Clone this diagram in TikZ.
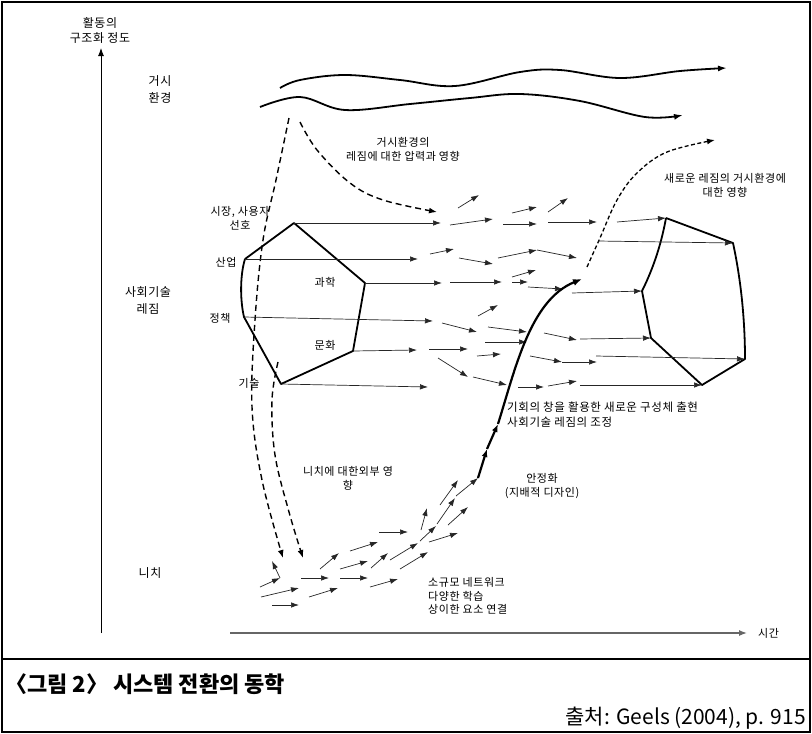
\documentclass[tikz,border=0pt]{standalone}
\usepackage{fontspec}
\setmainfont{Noto Sans CJK KR}
\newfontfamily\lblf[LetterSpace=5]{Noto Sans CJK KR}
\usetikzlibrary{arrows.meta}
\begin{document}
\begin{tikzpicture}[x=1pt,y=-1pt,
  ar/.style={-{Latex[length=8pt,width=5.5pt]}, line width=0.7pt, draw=black!85},
  dsh/.style={dash pattern=on 6pt off 4pt, line width=1.4pt, -{Latex[length=8pt,width=6pt]}},
  fdsh/.style={dash pattern=on 4pt off 2.5pt, line width=1.3pt, -{Latex[length=8pt,width=6pt]}},
  thk/.style={line width=1.8pt, line join=round},
  wave/.style={line width=1.8pt, -{Latex[length=9pt,width=6pt]}},
  lbl/.style={font=\lblf\fontsize{11}{14}\selectfont, align=center, inner sep=0pt},
  big/.style={font=\lblf\fontsize{12}{17}\selectfont, align=center, inner sep=0pt}]
\useasboundingbox (0,0) rectangle (812,734);
\draw[line width=1.2pt] (2,2) rectangle (810,732);
\draw[line width=1.2pt] (2,659) -- (810,659);

% axes
\coordinate (YA0) at (101,633);
\coordinate (YA1) at (101,48);
\coordinate (XA0) at (230,633);
\coordinate (XA1) at (747,633);
\draw[line width=0.9pt, -{Latex[length=8pt,width=6pt]}] (YA0) -- (YA1);
\draw[line width=1.3pt, draw=black!60, -{Latex[length=8pt,width=6pt]}] (XA0) -- (XA1);
\node[big, font=\lblf\fontsize{12}{15}\selectfont] (ylab) at (100,30) {활동의\\구조화 정도};
\node[lbl, anchor=west] (tlab) at (758,633) {시간};

\node[big] (macro) at (160,89.5) {거시\\환경};
\node[big] (regime) at (148,300.5) {사회기술\\레짐};
\node[big] (niche) at (150,573) {니치};

% landscape waves
\draw[wave] plot[smooth, tension=0.6] coordinates {(280,88) (300,80) (345,75) (400,80) (455,86) (520,72) (560,70) (620,78) (680,71) (727,68)};
\draw[wave] plot[smooth, tension=0.6] coordinates {(260,107) (300,97) (345,110) (410,104) (470,98) (520,94) (580,101) (645,117) (683,115)};

% dashed influences
\draw[dsh] plot[smooth, tension=0.6] coordinates {(289,118) (276,180) (263,240) (255,320) (252,407) (262,480) (283,558)};
\draw[dsh] plot[smooth, tension=0.6] coordinates {(278,362) (272,400) (275,455) (289,512) (303,558)};
\draw[dsh] plot[smooth, tension=0.6] coordinates {(300,122) (317,150) (350,183) (383,200) (437,212)};
\draw[fdsh] plot[smooth, tension=0.6] coordinates {(587,267) (600,238) (617,200) (637,173) (667,152) (715,140)};

% left regime polygon
\coordinate (LT) at (294,223);
\coordinate (LR) at (365,283);
\coordinate (LLR) at (353,351);
\coordinate (LB) at (281,384);
\coordinate (LLL) at (244,317);
\coordinate (LLU) at (245,259);
\draw[thk] (LLU) -- (LT) -- (LR) -- (LLR) -- (LB) -- (LLL) .. controls (240,300) and (240,275) .. (LLU);

% right regime polygon
\coordinate (RTL) at (666,218);
\coordinate (RTR) at (733,243);
\coordinate (RBR) at (745,359);
\coordinate (RB) at (702,385);
\coordinate (RLL) at (651,338);
\coordinate (RL) at (642,291);
\draw[thk] (RTL) -- (RTR) .. controls (741,280) and (745,320) .. (RBR) -- (RB) -- (RLL) -- (RL) .. controls (655,265) and (662,240) .. (RTL);

% lines from left polygon
\draw[ar] (LT) -- (441,223);
\draw[ar] (LLU) -- (418,259);
\draw[ar] (LR) -- (442,283);
\draw[ar] (LLL) -- (433,321);
\draw[ar] (LLR) -- (417,350);
\draw[ar] (LB) -- (428,387);

% middle arrows
\foreach \a/\b in {
  {(458,208)}/{(479,195)}, {(450,225)}/{(493,219)}, {(503,224)}/{(537,224)},
  {(512,213)}/{(537,207)}, {(548,212)}/{(568,198)}, {(548,222)}/{(597,222)},
  {(430,254)}/{(454,249)}, {(459,258)}/{(493,264)}, {(498,258)}/{(537,250)},
  {(537,250)}/{(577,258)}, {(450,282)}/{(502,282)}, {(512,277)}/{(536,270)},
  {(512,282)}/{(528,282)}, {(528,287)}/{(563,289)}, {(478,316)}/{(498,305)},
  {(442,323)}/{(477,332)}, {(488,327)}/{(527,332)}, {(485,342)}/{(527,342)},
  {(544,333)}/{(577,340)}, {(429,349)}/{(468,349)}, {(477,356)}/{(501,354)},
  {(438,358)}/{(468,377)}, {(530,356)}/{(562,362)}, {(562,362)}/{(597,362)},
  {(473,377)}/{(507,385)}, {(518,387)}/{(544,387)}, {(548,386)}/{(577,381)}}
  {\draw[ar] \a -- \b;}

% lines into right polygon
\draw[ar] (617,222) -- (RTL);
\draw[ar] (598,241) -- (RTR);
\draw[ar] (572,293) -- (RL);
\draw[ar] (580,339) -- (RLL);
\draw[ar] (596,356) -- (RBR);
\draw[ar] (580,385) -- (RB);

% niche arrows
\foreach \a/\b in {
  {(260,587)}/{(280,578)}, {(280,578)}/{(272,561)}, {(261,597)}/{(299,588)},
  {(272,605)}/{(299,605)}, {(301,578)}/{(329,578)}, {(309,597)}/{(338,588)},
  {(320,569)}/{(339,553)}, {(340,569)}/{(368,561)}, {(340,578)}/{(368,578)},
  {(350,551)}/{(378,542)}, {(370,587)}/{(398,579)}, {(371,568)}/{(388,553)},
  {(379,532)}/{(408,532)}, {(390,560)}/{(418,543)}, {(400,569)}/{(428,552)},
  {(420,541)}/{(436,526)}, {(437,524)}/{(455,498)}, {(456,496)}/{(478,478)},
  {(421,530)}/{(427,508)}, {(429,542)}/{(458,533)}, {(448,525)}/{(468,507)},
  {(440,505)}/{(458,480)}}
  {\draw[ar] \a -- \b;}

% thick emergence path
\coordinate (S0) at (478,478);
\coordinate (S1) at (487,449);
\coordinate (S2) at (498,424);
\coordinate (S3) at (582,279);
\draw[line width=2.2pt, -{Latex[length=8pt,width=6pt]}] (S0) -- (S1);
\draw[line width=2.2pt, -{Latex[length=8pt,width=6pt]}] (S1) -- (S2);
\draw[line width=2.2pt, -{Latex[length=9pt,width=7pt]}] (S2) .. controls (515,370) and (530,300) .. (S3);

% labels
\node[lbl] (t1) at (403,149) {거시환경의\\레짐에 대한 압력과 영향};
\node[lbl] (t2) at (725,185) {새로운 레짐의 거시환경에\\대한 영향};
\node[lbl] (t3) at (240,218.5) {시장, 사용자\\선호};
\node[lbl] (t4) at (226,262) {산업};
\node[lbl] (t5) at (220,318) {정책};
\node[lbl] (t6) at (249,383) {기술};
\node[lbl] (t7) at (325,282) {과학};
\node[lbl] (t8) at (325,345) {문화};
\node[lbl, anchor=west, align=left, font=\lblf\fontsize{11.5}{15}\selectfont] (t9) at (507,414.5) {기회의 창을 활용한 새로운 구성체 출현\\사회기술 레짐의 조정};
\node[lbl] (t10) at (542,486) {안정화\\(지배적 디자인)};
\node[lbl] (t11) at (348,478.5) {니치에 대한외부 영\\향};
\node[lbl, anchor=west, align=left, font=\lblf\fontsize{11}{13.5}\selectfont] (t12) at (428,596) {소규모 네트워크\\다양한 학습\\상이한 요소 연결};

% caption
\node[anchor=west, inner sep=0pt, font=\fontsize{22}{25}\selectfont\bfseries] (cap) at (5,684) {〈그림 2〉 시스템 전환의 동학};
\node[anchor=east, inner sep=0pt, font=\fontsize{21}{24}\selectfont] (src) at (806,718) {출처: Geels (2004), p. 915};
\end{tikzpicture}
\end{document}
